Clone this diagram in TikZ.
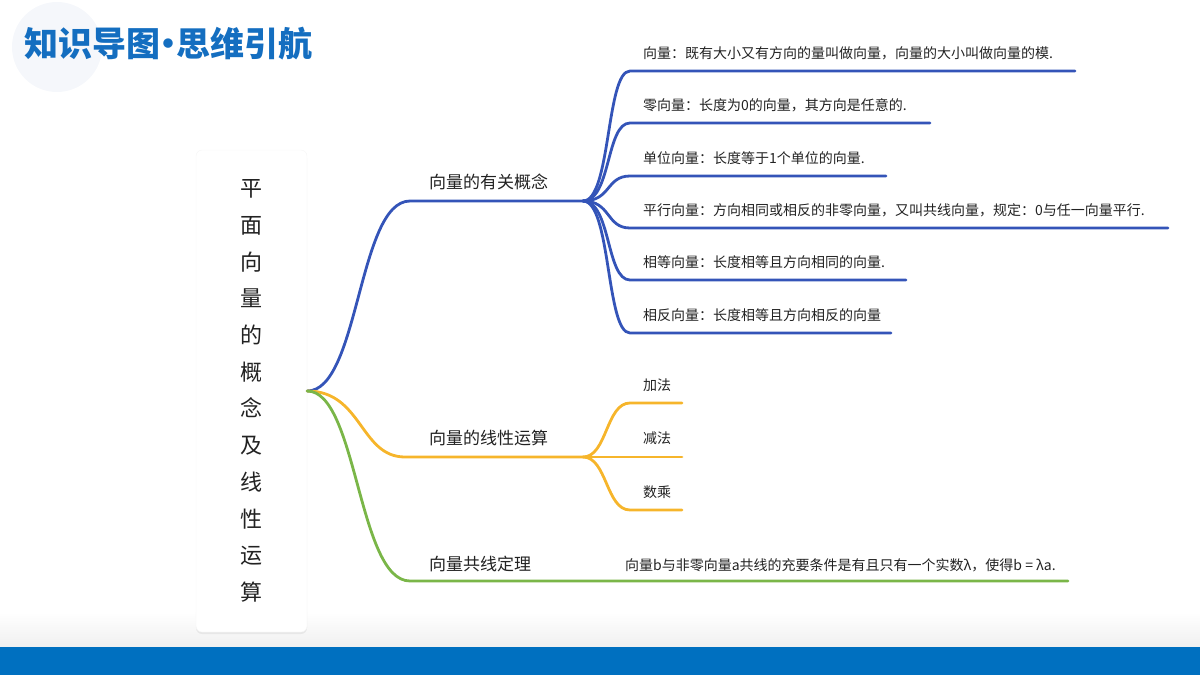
\documentclass[tikz,border=0pt]{standalone}
\usepackage{fontspec}
\setmainfont{Noto Sans CJK SC}
\usepackage{xcolor}
\usetikzlibrary{positioning, calc, shadows}

\definecolor{titleblue}{RGB}{20,110,192}
\definecolor{barblue}{RGB}{0,112,192}
\definecolor{branchblue}{RGB}{52,84,184}
\definecolor{branchyellow}{RGB}{246,181,43}
\definecolor{branchgreen}{RGB}{122,182,72}
\definecolor{inkgray}{RGB}{34,34,34}
\definecolor{haloblue}{RGB}{245,247,251}

\begin{document}
\begin{tikzpicture}[x=1pt, y=-1pt,
  blueline/.style={draw=branchblue, line width=2.8pt, line cap=round},
  yellowline/.style={draw=branchyellow, line width=2.8pt, line cap=round},
  greenline/.style={draw=branchgreen, line width=2.8pt, line cap=round},
  topic/.style={anchor=west, inner sep=0pt, text=inkgray, font=\fontsize{17}{20}\selectfont},
  leaf/.style={anchor=west, inner sep=0pt, text=inkgray, font=\fontsize{14}{16}\selectfont}]
  \useasboundingbox (0,0) rectangle (1200,675);

  % Title
  \fill[haloblue] (57,47) circle (45);
  \node[anchor=west, inner sep=0pt, text=titleblue, font=\fontsize{34}{38}\selectfont\bfseries] (title) at (24,44)
    {知识导图\kern-9pt•\kern-9pt思维引航};

  % Footer
  \shade[top color=white, bottom color=gray!12] (0,612) rectangle (1200,647);
  \fill[barblue] (0,647) rectangle (1200,675);

  % Root box
  \node[draw=gray!8, fill=white, rounded corners=6pt, minimum width=111, minimum height=482,
        drop shadow={opacity=0.12, shadow xshift=0pt, shadow yshift=-2pt},
        align=center, text=inkgray, font=\fontsize{22}{36.7}\selectfont] (root) at (251.5,391)
        {平\\面\\向\\量\\的\\概\\念\\及\\线\\性\\运\\算};

  % --- BRANCH 1: concepts ---
  \coordinate (conceptL) at (410,201);
  \coordinate (conceptR) at (583,201);
  \draw[blueline] (root.east) .. controls +(52,0) and +(-52,0) .. (conceptL) -- (conceptR);
  \node[topic] (concept) at (429,182) {向量的有关概念};

  \coordinate (vecA) at (630,71);   \coordinate (vecB) at (1075,71);
  \coordinate (zeroA) at (630,123); \coordinate (zeroB) at (930,123);
  \coordinate (unitA) at (630,176); \coordinate (unitB) at (886,176);
  \coordinate (paraA) at (630,228); \coordinate (paraB) at (1168,228);
  \coordinate (equA) at (630,280);  \coordinate (equB) at (906,280);
  \coordinate (oppA) at (630,333);  \coordinate (oppB) at (891,333);
  \draw[blueline] (conceptR) .. controls +(28,0) and +(-24,0) .. (vecA) -- (vecB);
  \draw[blueline] (conceptR) .. controls +(28,0) and +(-24,0) .. (zeroA) -- (zeroB);
  \draw[blueline] (conceptR) .. controls +(28,0) and +(-24,0) .. (unitA) -- (unitB);
  \draw[blueline] (conceptR) .. controls +(28,0) and +(-24,0) .. (paraA) -- (paraB);
  \draw[blueline] (conceptR) .. controls +(28,0) and +(-24,0) .. (equA) -- (equB);
  \draw[blueline] (conceptR) .. controls +(28,0) and +(-24,0) .. (oppA) -- (oppB);
  \node[leaf] (vec) at (643,53) {向量：既有大小又有方向的量叫做向量，向量的大小叫做向量的模.};
  \node[leaf] (zero) at (643,105) {零向量：长度为0的向量，其方向是任意的.};
  \node[leaf] (unit) at (643,158) {单位向量：长度等于1个单位的向量.};
  \node[leaf] (para) at (643,210) {平行向量：方向相同或相反的非零向量，又叫共线向量，规定：0与任一向量平行.};
  \node[leaf] (equ) at (643,262) {相等向量：长度相等且方向相同的向量.};
  \node[leaf] (opp) at (643,315) {相反向量：长度相等且方向相反的向量};

  % --- BRANCH 2: linear operations ---
  \coordinate (linearL) at (405,457);
  \coordinate (linearR) at (583,457);
  \draw[yellowline] (root.east) .. controls +(55,0) and +(-45,0) .. (linearL) -- (linearR);
  \node[topic] (linear) at (429,438) {向量的线性运算};

  \coordinate (addA) at (630,403); \coordinate (addB) at (682,403);
  \coordinate (subA) at (630,457); \coordinate (subB) at (682,457);
  \coordinate (mulA) at (630,510); \coordinate (mulB) at (682,510);
  \draw[yellowline] (linearR) .. controls +(24,0) and +(-24,0) .. (addA) -- (addB);
  \draw[yellowline] (linearR) -- (subA) -- (subB);
  \draw[yellowline] (linearR) .. controls +(24,0) and +(-24,0) .. (mulA) -- (mulB);
  \node[leaf] (add) at (643,385) {加法};
  \node[leaf] (sub) at (643,438) {减法};
  \node[leaf] (mul) at (643,492) {数乘};

  % --- BRANCH 3: collinear theorem ---
  \coordinate (collL) at (410,581);
  \coordinate (collR) at (583,581);
  \coordinate (thmB) at (1068,581);
  \draw[greenline] (root.east) .. controls +(50,0) and +(-52,0) .. (collL) -- (collR) -- (thmB);
  \node[topic] (coll) at (429,564) {向量共线定理};
  \node[leaf] (thm) at (625,565) {向量b与非零向量a共线的充要条件是有且只有一个实数λ，使得b = λa.};
\end{tikzpicture}
\end{document}
